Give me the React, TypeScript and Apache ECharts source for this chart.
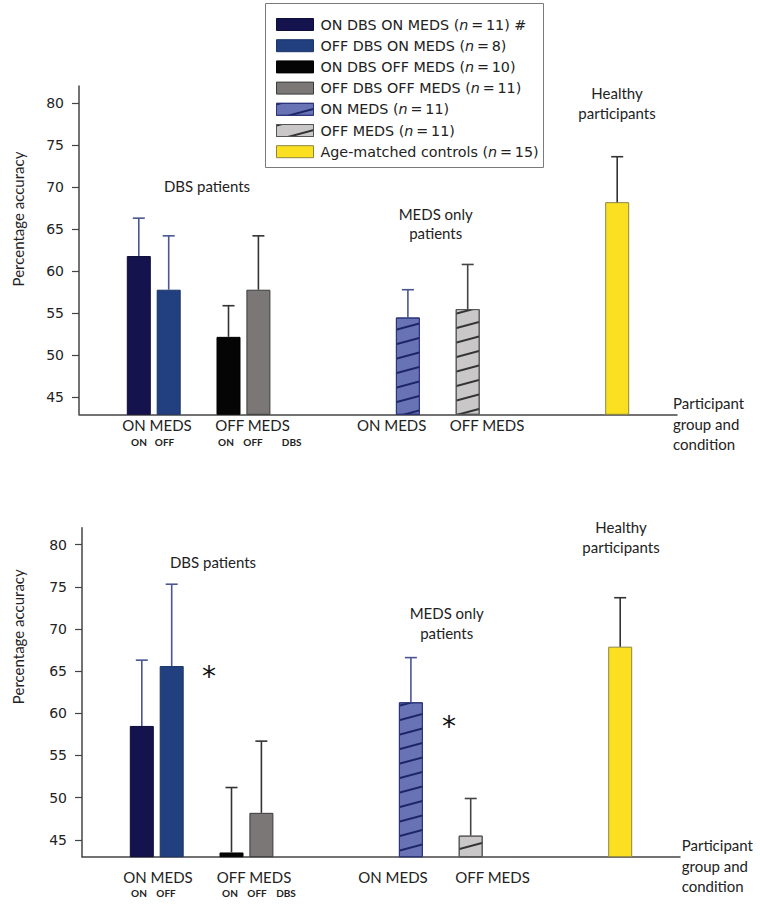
import React, { useEffect, useRef } from "react";
import * as echarts from "echarts";

// ---------- data ----------
const groups = [
  "ON DBS ON MEDS",
  "OFF DBS ON MEDS",
  "ON DBS OFF MEDS",
  "OFF DBS OFF MEDS",
  "ON MEDS",
  "OFF MEDS",
  "Age-matched controls",
];
const groupN = [11, 8, 10, 11, 11, 11, 15];
const groupMark = ["#", "", "", "", "", "", ""];
// slot of each bar along the (hidden) participant/condition axis
const slots = [2, 3, 5, 6, 11, 13, 18];

const topMeans = [61.8, 57.8, 52.2, 57.8, 54.5, 55.5, 68.2];
const topErrors = [4.5, 6.4, 3.7, 6.4, 3.3, 5.3, 5.4];
const bottomMeans = [58.5, 65.6, 43.5, 48.2, 61.3, 45.5, 67.9];
const bottomErrors = [7.8, 9.7, 7.7, 8.5, 5.3, 4.4, 5.8];

const yTicks = [45, 50, 55, 60, 65, 70, 75, 80];
const yMin = 43;
const yMax = 82;

const annotDBS = "DBS patients";
const annotMeds = ["MEDS only", "patients"];
const annotHealthy = ["Healthy", "participants"];
const xAxisTitle = ["Participant", "group and", "condition"];
const yAxisTitle = "Percentage accuracy";

// ---------- styles ----------
const CAL = "Lato";
const ARI = "DejaVu Sans";
const TXT = "#222";

const hatch = (color: string) => ({
  symbol: "rect",
  symbolSize: 1,
  dashArrayX: [1, 0],
  dashArrayY: [1.6, 12],
  rotation: -Math.PI / 12,
  color,
});

const barStyles: any[] = [
  { color: "#15134d", borderColor: "#0e0c38", borderWidth: 1 },
  { color: "#22407f", borderColor: "#1a3468", borderWidth: 1 },
  { color: "#050505", borderColor: "#000", borderWidth: 1 },
  { color: "#7b7777", borderColor: "#3a3a3a", borderWidth: 1 },
  { color: "#6773b4", borderColor: "#2b3478", borderWidth: 1, decal: hatch("#1c2566") },
  { color: "#c9c7c7", borderColor: "#555", borderWidth: 1, decal: hatch("#333") },
  { color: "#fbe022", borderColor: "#8f8440", borderWidth: 1 },
];
const errColors = ["#4b5592", "#4b5592", "#333", "#333", "#4b5592", "#444", "#333"];

function makeSeries(gi: number, means: number[], errs: number[]) {
  const bars = groups.map((name, i) => ({
    type: "bar",
    name,
    xAxisIndex: gi,
    yAxisIndex: gi,
    barWidth: 24,
    barGap: "-100%",
    clip: true,
    data: [[slots[i], means[i]]],
    itemStyle: barStyles[i],
    emphasis: { disabled: true },
  }));
  const err = {
    type: "custom",
    xAxisIndex: gi,
    yAxisIndex: gi,
    z: 5,
    silent: true,
    data: slots.map((s, i) => [s, means[i], means[i] + errs[i]]),
    renderItem: (params: any, api: any) => {
      const x = api.value(0);
      const p0 = api.coord([x, api.value(1)]);
      const p1 = api.coord([x, api.value(2)]);
      const c = errColors[params.dataIndex];
      return {
        type: "group",
        children: [
          {
            type: "line",
            shape: { x1: p0[0], y1: p0[1], x2: p1[0], y2: p1[1] },
            style: { stroke: c, lineWidth: 1.6 },
          },
          {
            type: "line",
            shape: { x1: p1[0] - 6, y1: p1[1], x2: p1[0] + 6, y2: p1[1] },
            style: { stroke: c, lineWidth: 1.6 },
          },
        ],
      };
    },
  };
  return [...bars, err];
}

function txt(x: number, y: number, text: string, size: number, extra: any = {}) {
  return {
    type: "text",
    x,
    y,
    silent: true,
    style: {
      text,
      fill: TXT,
      fontSize: size,
      fontFamily: CAL,
      align: "center",
      verticalAlign: "middle",
      ...extra,
    },
  };
}

function panelGraphics(labels: any) {
  const g: any[] = [];
  g.push({ ...txt(17.8, labels.yTitle, yAxisTitle, 15), rotation: Math.PI / 2 });
  g.push(txt(labels.onMeds, labels.bigY, "ON MEDS", 15));
  g.push(txt(labels.offMeds, labels.bigY, "OFF MEDS", 15));
  labels.small.forEach((s: any) =>
    g.push(txt(s[0], labels.smallY, s[1], 10, { fontWeight: "bold" }))
  );
  g.push(txt(labels.onMeds2, labels.bigY, "ON MEDS", 15));
  g.push(txt(labels.offMeds2, labels.bigY, "OFF MEDS", 15));
  xAxisTitle.forEach((t, i) =>
    g.push(txt(labels.xTitleX, labels.xTitleY + i * 20.5, t, 15, { align: "left" }))
  );
  return g;
}

export default function App() {
  const ref = useRef<HTMLDivElement>(null);
  useEffect(() => {
    document.body.style.margin = "0";
    if (!ref.current) return;
    const chart = echarts.init(ref.current, undefined, { renderer: "svg" });

    const yAxisBase = (gi: number) => ({
      type: "value",
      gridIndex: gi,
      min: yMin,
      max: yMax,
      splitLine: { show: false },
      axisLine: { show: true, lineStyle: { color: "#444", width: 1.5 } },
      axisTick: { show: true, length: 7, lineStyle: { color: "#444", width: 1.2 }, customValues: yTicks },
      axisLabel: {
        customValues: yTicks,
        margin: 15,
        color: TXT,
        fontSize: 14,
        fontFamily: ARI,
      },
    });
    const xAxisBase = (gi: number) => ({
      type: "value",
      gridIndex: gi,
      min: 0,
      max: 20,
      splitLine: { show: false },
      axisLine: { show: true, onZero: false, lineStyle: { color: "#444", width: 1.5 } },
      axisTick: { show: false },
      axisLabel: { show: false },
    });

    const graphic: any[] = [];
    // legend frame
    graphic.push({
      type: "rect",
      shape: { x: 265.5, y: 3.5, width: 278, height: 164 },
      style: { fill: "#fff", stroke: "#7a7a7a", lineWidth: 1 },
      z: -1,
      silent: true,
    });
    // top annotations
    graphic.push(txt(207, 185.7, annotDBS, 15));
    graphic.push(txt(435.7, 214.3, annotMeds[0], 15));
    graphic.push(txt(435.7, 233.3, annotMeds[1], 15));
    graphic.push(txt(617, 93.3, annotHealthy[0], 15));
    graphic.push(txt(617, 113.3, annotHealthy[1], 15));
    // bottom annotations
    graphic.push(txt(213, 561.7, annotDBS, 15));
    graphic.push(txt(446.7, 613.3, annotMeds[0], 15));
    graphic.push(txt(446.7, 632.7, annotMeds[1], 15));
    graphic.push(txt(621, 526.7, annotHealthy[0], 15));
    graphic.push(txt(621, 546.7, annotHealthy[1], 15));
    // significance stars
    graphic.push(txt(209, 676, "*", 28, { fontFamily: ARI, fill: "#111" }));
    graphic.push(txt(449, 726, "*", 28, { fontFamily: ARI, fill: "#111" }));

    graphic.push(
      ...panelGraphics({
        yTitle: 219,
        bigY: 425,
        smallY: 441.7,
        onMeds: 157,
        offMeds: 252.5,
        onMeds2: 391.7,
        offMeds2: 487,
        small: [
          [139, "ON"],
          [164.5, "OFF"],
          [226, "ON"],
          [253, "OFF"],
          [291.7, "DBS"],
        ],
        xTitleX: 673,
        xTitleY: 403,
      })
    );
    graphic.push(
      ...panelGraphics({
        yTitle: 636.7,
        bigY: 876.7,
        smallY: 892.7,
        onMeds: 158,
        offMeds: 254,
        onMeds2: 393,
        offMeds2: 492.5,
        small: [
          [139, "ON"],
          [166, "OFF"],
          [230, "ON"],
          [257, "OFF"],
          [286, "DBS"],
        ],
        xTitleX: 681.7,
        xTitleY: 845,
      })
    );

    const option: any = {
      animation: false,
      backgroundColor: "#fff",
      grid: [
        { left: 79, top: 86, width: 598, height: 328.3 },
        { left: 82, top: 527.7, width: 598, height: 329 },
      ],
      xAxis: [xAxisBase(0), xAxisBase(1)],
      yAxis: [yAxisBase(0), yAxisBase(1)],
      legend: {
        data: groups,
        orient: "vertical",
        left: 265,
        top: 3,
        padding: [14, 7, 8, 11],
        itemGap: 6.2,
        itemWidth: 37,
        itemHeight: 12,
        icon: "rect",
        selectedMode: false,
        borderWidth: 0,
        z: 10,
        itemStyle: { borderWidth: 1 },
        formatter: (name: string) => {
          const i = groups.indexOf(name);
          return `${name} ({i|n}\u2009=\u2009${groupN[i]})${groupMark[i] ? " " + groupMark[i] : ""}`;
        },
        textStyle: {
          color: TXT,
          fontSize: 14.3,
          fontFamily: ARI,
          lineHeight: 15,
          padding: [0, 0, 0, 2],
          rich: {
            i: { fontStyle: "italic", fontSize: 14.3, fontFamily: ARI, color: TXT, lineHeight: 15 },
          },
        },
      },
      graphic,
      series: [...makeSeries(0, topMeans, topErrors), ...makeSeries(1, bottomMeans, bottomErrors)],
    };
    chart.setOption(option);
    return () => chart.dispose();
  }, []);
  return <div ref={ref} style={{ width: 760, height: 905 }} />;
}
